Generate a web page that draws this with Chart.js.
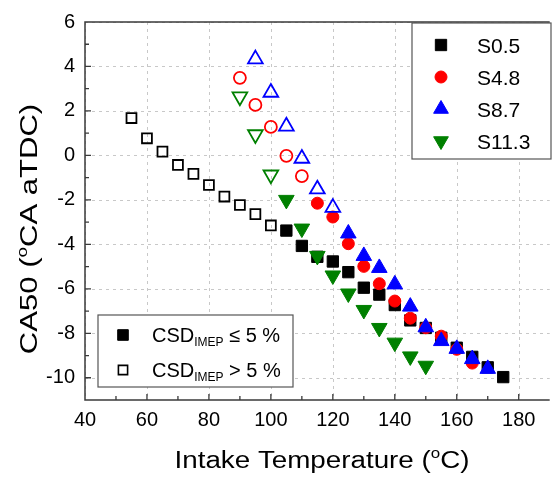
<!DOCTYPE html>
<html>
<head>
<meta charset="utf-8">
<script src="https://cdn.jsdelivr.net/npm/chart.js@4.4.1/dist/chart.umd.min.js"></script>
<style>
  html, body { margin: 0; padding: 0; background: #fff; }
</style>
</head>
<body>
<canvas id="ca50Chart" width="560" height="481"></canvas>
<script>
// S0.5 - open = CSD_IMEP > 5 %, filled = CSD_IMEP <= 5 %
const tempS05Open = [55, 60, 65, 70, 75, 80, 85, 90, 95, 100];
const ca50S05Open = [1.68, 0.77, 0.17, -0.43, -0.83, -1.33, -1.85, -2.23, -2.64, -3.15];
const tempS05 = [105, 110, 115, 120, 125, 130, 135, 140, 145, 150, 155, 160, 165, 170, 175];
const ca50S05 = [-3.38, -4.07, -4.56, -4.77, -5.25, -5.95, -6.26, -6.73, -7.42, -7.76, -8.2, -8.65, -9.06, -9.53, -9.97];

// S4.8
const tempS48Open = [90, 95, 100, 105, 110];
const ca50S48Open = [3.49, 2.27, 1.28, -0.02, -0.93];
const tempS48 = [115, 120, 125, 130, 135, 140, 145, 150, 155, 160, 165];
const ca50S48 = [-2.15, -2.77, -3.97, -4.99, -5.77, -6.55, -7.32, -7.75, -8.13, -8.72, -9.34];

// S8.7
const tempS87Open = [95, 100, 105, 110, 115, 120];
const ca50S87Open = [4.33, 2.83, 1.31, -0.14, -1.52, -2.35];
const tempS87 = [125, 130, 135, 140, 145, 150, 155, 160, 165, 170];
const ca50S87 = [-3.51, -4.52, -5.06, -5.8, -6.8, -7.73, -8.35, -8.7, -9.16, -9.6];

// S11.3
const tempS113Open = [90, 95, 100];
const ca50S113Open = [2.64, 0.94, -0.87];
const tempS113 = [105, 110, 115, 120, 125, 130, 135, 140, 145, 150];
const ca50S113 = [-2.0, -3.29, -4.52, -5.4, -6.21, -6.95, -7.76, -8.42, -9.04, -9.46];

const seriesNames = ['S0.5', 'S4.8', 'S8.7', 'S11.3'];
const csdLabels = ['\u2264 5 %', '> 5 %'];

const toPoints = (xs, ys) => xs.map((x, i) => ({ x: x, y: ys[i] }));

const BLACK = '#000000', RED = '#ff0000', BLUE = '#0000ff', GREEN = '#008000';

// marker styles, one per series
const markers = [
  { color: BLACK, style: 'rect', r: 8, rOpen: 7, rot: 0 },
  { color: RED, style: 'circle', r: 6, rOpen: 6, rot: 0 },
  { color: BLUE, style: 'triangle', r: 9, rOpen: 8.5, rot: 0 },
  { color: GREEN, style: 'triangle', r: 9, rOpen: 8.5, rot: 180 }
];

function filledSet(label, pts, m, order) {
  return {
    label: label, data: pts, order: order,
    pointStyle: m.style, pointRadius: m.r, pointHoverRadius: m.r, pointRotation: m.rot,
    backgroundColor: m.color, borderColor: m.color, borderWidth: 1
  };
}
function openSet(label, pts, m, order) {
  return {
    label: label, data: pts, order: order,
    pointStyle: m.style, pointRadius: m.rOpen, pointHoverRadius: m.rOpen, pointRotation: m.rot,
    backgroundColor: 'rgba(255,255,255,0)', borderColor: m.color, borderWidth: 1.8
  };
}

const datasets = [
  filledSet('S11.3', toPoints(tempS113, ca50S113), markers[3], 0),
  openSet('S11.3 open', toPoints(tempS113Open, ca50S113Open), markers[3], 0),
  filledSet('S8.7', toPoints(tempS87, ca50S87), markers[2], 1),
  openSet('S8.7 open', toPoints(tempS87Open, ca50S87Open), markers[2], 1),
  filledSet('S4.8', toPoints(tempS48, ca50S48), markers[1], 2),
  openSet('S4.8 open', toPoints(tempS48Open, ca50S48Open), markers[1], 2),
  filledSet('S0.5', toPoints(tempS05, ca50S05), markers[0], 3),
  openSet('S0.5 open', toPoints(tempS05Open, ca50S05Open), markers[0], 3)
];

const FONT = '"Liberation Sans", Arial, sans-serif';

// draws text pieces with superscript / subscript parts
function drawRich(ctx, parts, size, x, y, align, fitWidth, maxScale) {
  const pieces = parts.map(p => {
    const s = p.kind === 'n' ? size : Math.round(size * 0.62);
    ctx.font = s + 'px ' + FONT;
    return { t: p.t, kind: p.kind, s: s, w: ctx.measureText(p.t).width };
  });
  const total = pieces.reduce((a, p) => a + p.w, 0);
  let sx = 1;
  if (fitWidth) sx = Math.min(fitWidth / total, maxScale || 2);
  ctx.save();
  ctx.translate(x, y);
  ctx.scale(sx, 1);
  let cx = align === 'center' ? -total / 2 : 0;
  ctx.textAlign = 'left';
  ctx.textBaseline = 'alphabetic';
  pieces.forEach(p => {
    ctx.font = p.s + 'px ' + FONT;
    let dy = 0;
    if (p.kind === 'sup') dy = -size * 0.42;
    if (p.kind === 'sub') dy = size * 0.22;
    ctx.fillText(p.t, cx, dy);
    cx += p.w;
  });
  ctx.restore();
}

function drawMarker(ctx, m, open, x, y, r) {
  ctx.save();
  ctx.fillStyle = open ? '#ffffff' : m.color;
  ctx.strokeStyle = m.color;
  ctx.lineWidth = open ? 1.6 : 1;
  Chart.helpers.drawPoint(ctx, { pointStyle: m.style, radius: r, rotation: m.rot, borderWidth: ctx.lineWidth }, x, y);
  ctx.restore();
}

// dashed grid at the major ticks of both scales
const gridPlugin = {
  id: 'dashGrid',
  beforeDatasetsDraw(chart) {
    const ctx = chart.ctx;
    const a = chart.chartArea;
    ctx.save();
    ctx.strokeStyle = '#c8c8c8';
    ctx.lineWidth = 1;
    ctx.setLineDash([3, 4]);
    ctx.beginPath();
    chart.scales.x.ticks.forEach(t => {
      const px = Math.round(chart.scales.x.getPixelForValue(t.value)) + 0.5;
      ctx.moveTo(px, a.top); ctx.lineTo(px, a.bottom);
    });
    chart.scales.y.ticks.forEach(t => {
      const py = Math.round(chart.scales.y.getPixelForValue(t.value)) + 0.5;
      ctx.moveTo(a.left, py); ctx.lineTo(a.right, py);
    });
    ctx.stroke();
    ctx.restore();
  }
};

const framePlugin = {
  id: 'frame',
  afterDraw(chart) {
    const ctx = chart.ctx;
    const a = chart.chartArea;
    const xs = chart.scales.x, ys = chart.scales.y;
    ctx.save();
    ctx.strokeStyle = '#3a3a3a';
    ctx.lineWidth = 1.5;
    ctx.beginPath();
    ctx.moveTo(a.right, a.top); ctx.lineTo(a.left, a.top);
    ctx.lineTo(a.left, a.bottom); ctx.lineTo(a.right, a.bottom);
    ctx.stroke();
    // inward ticks, major + minor
    ctx.lineWidth = 1.3;
    ctx.beginPath();
    for (let v = 50; v < 190; v += 10) {
      const px = xs.getPixelForValue(v);
      const len = v % 20 === 0 ? 6 : 4;
      ctx.moveTo(px, a.bottom); ctx.lineTo(px, a.bottom - len);
    }
    for (let v = -10; v < 6; v += 1) {
      const py = ys.getPixelForValue(v);
      const len = v % 2 === 0 ? 6 : 4;
      ctx.moveTo(a.left, py); ctx.lineTo(a.left + len, py);
    }
    ctx.stroke();

    // axis titles
    ctx.fillStyle = '#000';
    drawRich(ctx, [{ t: 'Intake Temperature (', kind: 'n' }, { t: 'o', kind: 'sup' }, { t: 'C)', kind: 'n' }],
      23, 322, 468, 'center', 295, 1.3);
    ctx.save();
    ctx.translate(37, 229);
    ctx.rotate(-Math.PI / 2);
    drawRich(ctx, [{ t: 'CA50 (', kind: 'n' }, { t: 'o', kind: 'sup' }, { t: 'CA aTDC)', kind: 'n' }],
      23, 0, 0, 'center', 252, 1.35);
    ctx.restore();

    // series legend (top right)
    ctx.fillStyle = '#fff';
    ctx.strokeStyle = '#555';
    ctx.lineWidth = 1.2;
    ctx.fillRect(412, 23, 139, 136);
    ctx.strokeRect(412, 23, 139, 136);
    const rows = [45, 77, 109, 141];
    seriesNames.forEach((name, i) => {
      const m = markers[i];
      drawMarker(ctx, m, false, 441, rows[i], m.style === 'rect' ? 8 : (m.style === 'circle' ? 6 : 8.5));
      ctx.fillStyle = '#000';
      drawRich(ctx, [{ t: name, kind: 'n' }], 21, 477, rows[i] + 8, 'left', null);
      ctx.fillStyle = '#000';
    });

    // CSD legend (bottom left)
    ctx.fillStyle = '#fff';
    ctx.strokeStyle = '#555';
    ctx.lineWidth = 1.2;
    ctx.fillRect(98, 315, 195, 72);
    ctx.strokeRect(98, 315, 195, 72);
    const csdRows = [335, 370];
    csdLabels.forEach((lab, i) => {
      drawMarker(ctx, markers[0], i === 1, 123, csdRows[i], i === 0 ? 7.5 : 6.5);
      ctx.fillStyle = '#000';
      drawRich(ctx, [{ t: 'CSD', kind: 'n' }, { t: 'IMEP', kind: 'sub' }, { t: ' ' + lab, kind: 'n' }],
        20, 152, csdRows[i] + 7, 'left', null);
    });
    ctx.restore();
  }
};

const ctx = document.getElementById('ca50Chart').getContext('2d');
const chart = new Chart(ctx, {
  type: 'scatter',
  data: { datasets: datasets },
  options: {
    responsive: false,
    devicePixelRatio: 1,
    animation: false,
    layout: { padding: { top: 14, right: 0, left: 0, bottom: 0 } },
    plugins: { legend: { display: false }, tooltip: { enabled: false } },
    scales: {
      x: {
        type: 'linear', min: 40, max: 190,
        ticks: { stepSize: 20, includeBounds: false, color: '#000', padding: 8, maxRotation: 0,
                 font: { size: 20, family: FONT } },
        grid: { display: false, drawTicks: false },
        border: { display: false },
        afterFit: s => { s.height = 81; }
      },
      y: {
        type: 'linear', min: -11, max: 6,
        ticks: { stepSize: 2, includeBounds: false, color: '#000', padding: 10,
                 font: { size: 20, family: FONT } },
        grid: { display: false, drawTicks: false },
        border: { display: false },
        afterFit: s => { s.width = 85; }
      }
    }
  },
  plugins: [gridPlugin, framePlugin]
});
</script>
</body>
</html>
